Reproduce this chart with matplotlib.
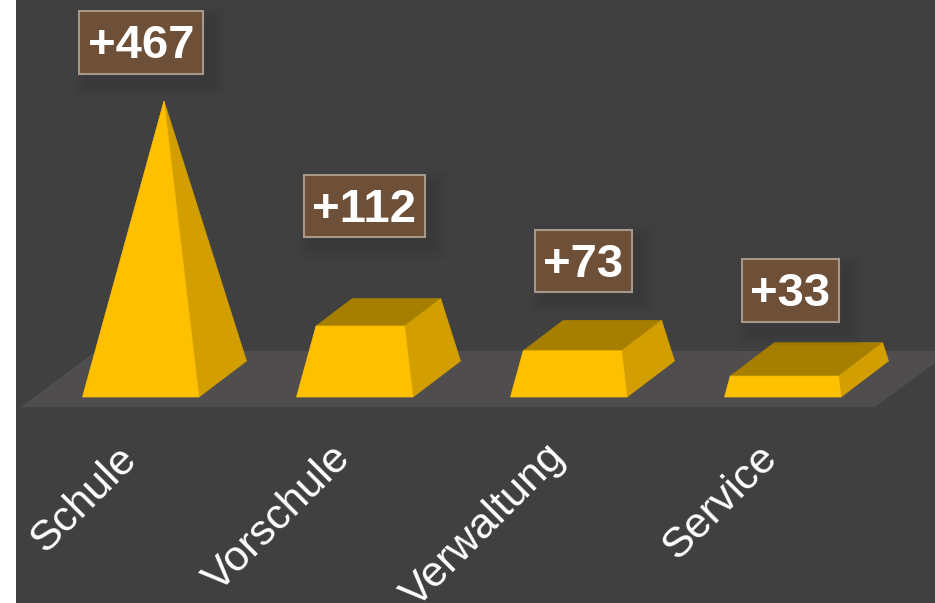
import matplotlib
matplotlib.use('Agg')
import matplotlib.pyplot as plt
import numpy as np
from matplotlib.patches import Polygon, Rectangle

plt.rcParams['font.family'] = ['Liberation Sans', 'DejaVu Sans']

categories = ['Schule', 'Vorschule', 'Verwaltung', 'Service']
values = [467, 112, 73, 33]

# label boxes: left, top, right, bottom in pixels
boxes = [(78.5, 10.5, 203, 74), (303.5, 174.5, 425, 237), (534.5, 229.5, 632, 292), (741.5, 258.5, 839, 322)]
# upper right end of the rotated category labels
label_ends = [(130, 453), (345, 452), (559, 451), (771, 452)]

bg = '#404040'
floor = '#504d4e'
front = '#ffc000'
side = '#d29e00'
top = '#a67e00'

W, H = 935, 603
fig = plt.figure(figsize=(W / 100, H / 100), dpi=100, facecolor='white')
ax = fig.add_axes([0, 0, 1, 1])
ax.set_xlim(0, W)
ax.set_ylim(H, 0)
ax.axis('off')

ax.add_patch(Rectangle((16, 0), W - 16, H, fc=bg, ec='none', zorder=0))
ax.add_patch(Polygon([(21, 407), (875, 407), (935, 363), (935, 351), (96, 351)],
                     fc=floor, ec='none', zorder=1))

# frustum of a pyramid, cut at value / max
base_y = 397
max_v = max(values)
for i, v in enumerate(values):
    x0 = 82.5 + 214 * i
    base = np.array([(x0, base_y), (x0 + 116.5, base_y), (x0 + 164, base_y - 36), (x0 + 47.5, base_y - 36)])
    apex = np.array([x0 + 81.5, 101])
    t = v / max_v
    upper = base + t * (apex - base)
    if t < 1:
        ax.add_patch(Polygon(upper, fc=top, ec=top, lw=0.5, zorder=3))
    ax.add_patch(Polygon([base[1], base[2], upper[2], upper[1]], fc=side, ec=side, lw=0.5, zorder=3))
    ax.add_patch(Polygon([base[0], base[1], upper[1], upper[0]], fc=front, ec=front, lw=0.5, zorder=4))

# value boxes with a soft shadow
for v, (l, t, r, b) in zip(values, boxes):
    for grow in range(14, 0, -2):
        ax.add_patch(Rectangle((l + 9 - grow, t + 9 - grow), r - l + 2 * grow, b - t + 2 * grow,
                               fc='#353535', ec='none', alpha=0.08, zorder=5))
    ax.add_patch(Rectangle((l, t), r - l, b - t, fc='#6e4f37', ec='#a8988a', lw=1.5, zorder=6))
    ax.text((l + r) / 2, (t + b) / 2 + 4, f'+{v}', color='white', fontsize=34, fontweight='bold',
            ha='center', va='center', zorder=7)

for name, (x, y) in zip(categories, label_ends):
    ax.text(x, y, name, color='white', fontsize=31, rotation=45, rotation_mode='anchor',
            ha='right', va='center', zorder=7)

fig.savefig('out.png', dpi=100, facecolor='white')
